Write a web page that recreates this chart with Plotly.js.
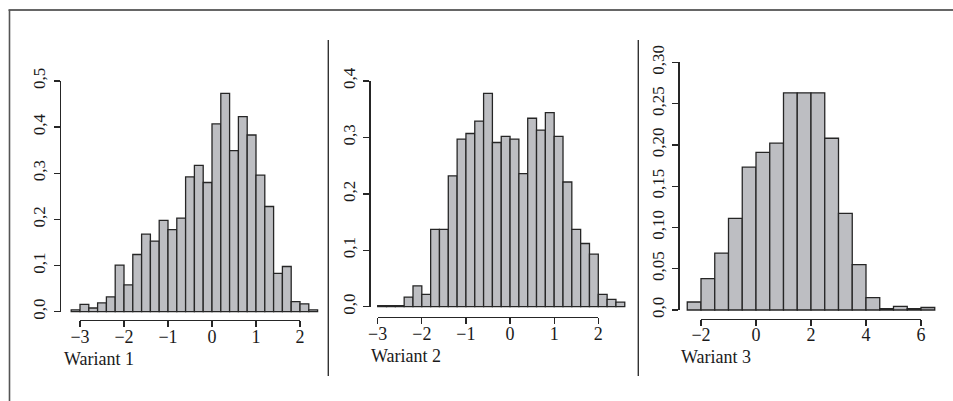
<!DOCTYPE html>
<html>
<head>
<meta charset="utf-8">
<script src="https://cdn.plot.ly/plotly-3.0.1.min.js"></script>
<style>html,body{margin:0;padding:0;background:#fff;}#chart{width:953px;height:401px;}</style>
</head>
<body>
<div id="chart"></div>
<script>
// ---- data (densities) ----
const panelTitles = ["Wariant 1", "Wariant 2", "Wariant 3"];

const binStart1 = -3.2, binWidth1 = 0.2;
const dens1 = [0.004, 0.016, 0.008, 0.019, 0.032, 0.101, 0.058, 0.124, 0.168, 0.153,
               0.198, 0.178, 0.203, 0.292, 0.317, 0.280, 0.407, 0.473, 0.349, 0.423,
               0.383, 0.296, 0.228, 0.083, 0.098, 0.022, 0.017, 0.004];

const binStart2 = -3.0, binWidth2 = 0.2;
const dens2 = [0.002, 0.002, 0.002, 0.017, 0.037, 0.022, 0.137, 0.137, 0.232, 0.297,
               0.307, 0.329, 0.378, 0.291, 0.302, 0.297, 0.236, 0.334, 0.313, 0.344,
               0.302, 0.221, 0.137, 0.112, 0.093, 0.022, 0.013, 0.008];

const binStart3 = -2.5, binWidth3 = 0.5;
const dens3 = [0.0097, 0.038, 0.069, 0.111, 0.173, 0.191, 0.202, 0.263, 0.263, 0.263,
               0.208, 0.117, 0.055, 0.015, 0.0016, 0.0044, 0.0016, 0.003];

const xTicks1 = [-3, -2, -1, 0, 1, 2];
const xTicks2 = [-3, -2, -1, 0, 1, 2];
const xTicks3 = [-2, 0, 2, 4, 6];
const yTicks1 = [0, 0.1, 0.2, 0.3, 0.4, 0.5];
const yLabels1 = ["0,0", "0,1", "0,2", "0,3", "0,4", "0,5"];
const yTicks2 = [0, 0.1, 0.2, 0.3, 0.4];
const yLabels2 = ["0,0", "0,1", "0,2", "0,3", "0,4"];
const yTicks3 = [0, 0.05, 0.10, 0.15, 0.20, 0.25, 0.30];
const yLabels3 = ["0,0", "0,05", "0,10", "0,15", "0,20", "0,25", "0,30"];

// ---- layout geometry (pixels) ----
const W = 953, H = 401;
const px = v => v / W;
const py = v => 1 - v / H;
const FONT = "Liberation Serif, Times New Roman, serif";

const panels = [
  {start: binStart1, w: binWidth1, d: dens1, xt: xTicks1, yt: yTicks1, yl: yLabels1, title: panelTitles[0],
   xa: -3, xaPx: 80, xb: 2, xbPx: 300, xr: [-3.3, 2.5],
   y0Px: 311.7, ytop: 0.5, ytopPx: 81, yr: [-0.01, 0.5],
   axisXPx: 60, axisYPx: 320, titleX: 61.5, titleY: 359},
  {start: binStart2, w: binWidth2, d: dens2, xt: xTicks2, yt: yTicks2, yl: yLabels2, title: panelTitles[1],
   xa: -3, xaPx: 377.7, xb: 2, xbPx: 598.3, xr: [-3.1, 2.7],
   y0Px: 306.7, ytop: 0.4, ytopPx: 81, yr: [-0.008, 0.4],
   axisXPx: 369.3, axisYPx: 316.7, titleX: 369, titleY: 356},
  {start: binStart3, w: binWidth3, d: dens3, xt: xTicks3, yt: yTicks3, yl: yLabels3, title: panelTitles[2],
   xa: -2, xaPx: 701, xb: 6, xbPx: 921, xr: [-2.6, 6.6],
   y0Px: 310, ytop: 0.30, ytopPx: 62.3, yr: [-0.006, 0.30],
   axisXPx: 678.3, axisYPx: 318.5, titleX: 679, titleY: 357}
];

const traces = [];
const layout = {
  width: W, height: H,
  margin: {l: 0, r: 0, t: 0, b: 0},
  paper_bgcolor: "#ffffff", plot_bgcolor: "rgba(0,0,0,0)",
  showlegend: false,
  separators: ", ",
  font: {family: FONT, color: "#1a1a1a", size: 16},
  annotations: [],
  shapes: [
    // outer frame (top and left) and panel dividers
    {type: "line", xref: "paper", yref: "paper", x0: px(8.5), x1: 1, y0: py(10), y1: py(10), line: {color: "#333", width: 1.6}},
    {type: "line", xref: "paper", yref: "paper", x0: px(9.5), x1: px(9.5), y0: py(10), y1: 0, line: {color: "#555", width: 1.6}},
    {type: "line", xref: "paper", yref: "paper", x0: px(328.3), x1: px(328.3), y0: py(40), y1: py(376), line: {color: "#333", width: 1.4}},
    {type: "line", xref: "paper", yref: "paper", x0: px(638.3), x1: px(638.3), y0: py(40), y1: py(376), line: {color: "#333", width: 1.4}}
  ]
};

panels.forEach((p, i) => {
  const k = (p.xbPx - p.xaPx) / (p.xb - p.xa);         // px per x unit
  const xPx = v => p.xaPx + (v - p.xa) * k;
  const ky = (p.y0Px - p.ytopPx) / p.ytop;              // px per y unit
  const yPx = v => p.y0Px - v * ky;

  const mx = "x" + (i + 1), my = "y" + (i + 1);          // data axes
  const dx = "x" + (i + 4), dy = "y" + (i + 4);          // display axes

  const centers = p.d.map((_, j) => p.start + (j + 0.5) * p.w);
  traces.push({
    type: "bar", x: centers, y: p.d, width: p.w,
    xaxis: mx, yaxis: my,
    marker: {color: "#bdbec2", line: {color: "#262626", width: 1.3}},
    hoverinfo: "x+y"
  });
  traces.push({type: "scatter", x: [], y: [], xaxis: dx, yaxis: dy, hoverinfo: "skip"});

  layout["xaxis" + (i + 1)] = {
    domain: [px(xPx(p.xr[0])), px(xPx(p.xr[1]))], range: p.xr,
    visible: false, anchor: my, fixedrange: true
  };
  layout["yaxis" + (i + 1)] = {
    domain: [py(yPx(p.yr[0])), py(yPx(p.yr[1]))], range: p.yr,
    visible: false, anchor: mx, fixedrange: true
  };

  const axCommon = {
    showline: true, linecolor: "#262626", linewidth: 1.3,
    ticks: "outside", ticklen: 6, tickwidth: 1.3, tickcolor: "#262626",
    showgrid: false, zeroline: false, fixedrange: true,
    anchor: "free"
  };
  layout["xaxis" + (i + 4)] = Object.assign({}, axCommon, {
    domain: [px(p.xaPx), px(p.xbPx)], range: [p.xa, p.xb],
    tickvals: p.xt, ticktext: p.xt.map(v => v < 0 ? "\u2212" + Math.abs(v) : String(v)),
    tickfont: {family: FONT, size: 18, color: "#1a1a1a"},
    ticklabelstandoff: -6,
    position: py(p.axisYPx)
  });
  layout["yaxis" + (i + 4)] = Object.assign({}, axCommon, {
    domain: [py(p.y0Px), py(p.ytopPx)], range: [0, p.ytop],
    tickvals: p.yt, ticktext: p.yl, tickangle: -90,
    tickfont: {family: FONT, size: 17, color: "#1a1a1a"},
    ticklabelstandoff: 2,
    position: px(p.axisXPx)
  });

  layout.annotations.push({
    text: p.title, xref: "paper", yref: "paper",
    x: px(p.titleX), y: py(p.titleY), xanchor: "left", yanchor: "middle",
    showarrow: false, font: {family: FONT, size: 18, color: "#1a1a1a"}
  });
});

Plotly.newPlot("chart", traces, layout, {displayModeBar: false, staticPlot: true});
</script>
</body>
</html>
